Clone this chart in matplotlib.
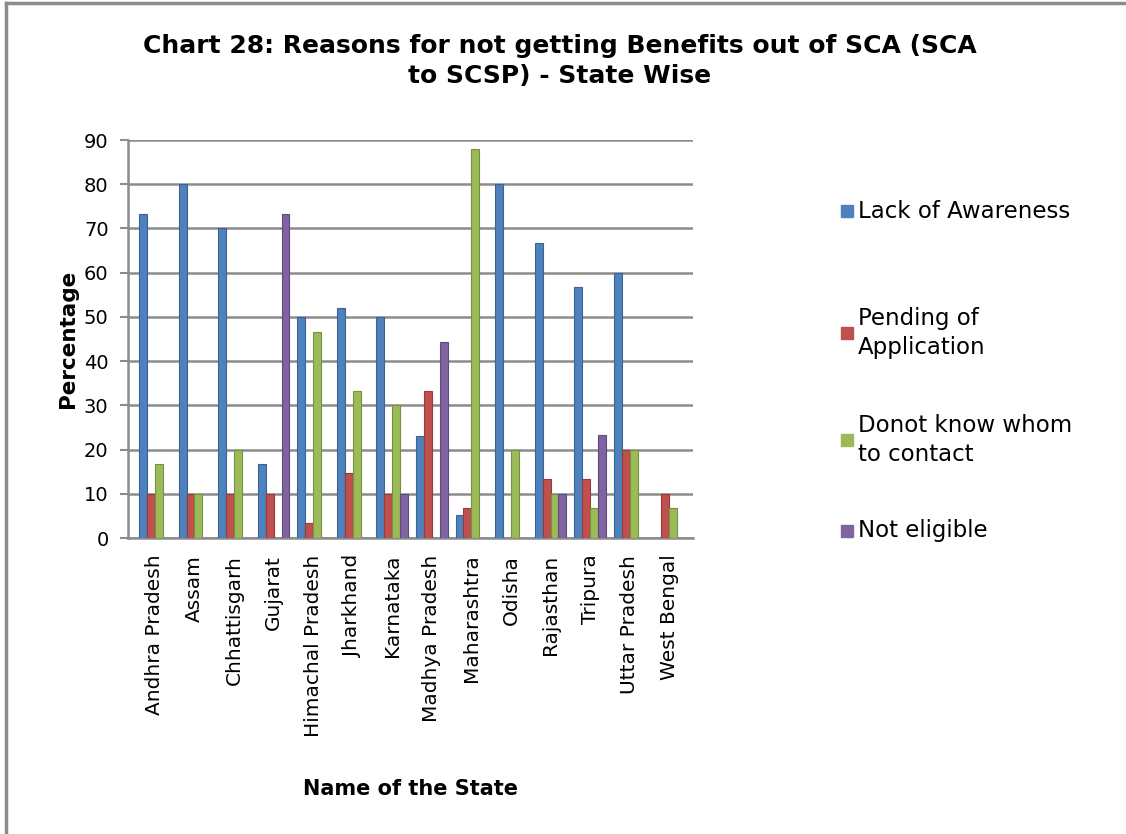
import numpy as np
import matplotlib.pyplot as plt
from matplotlib.lines import Line2D
from matplotlib.patches import Rectangle

# State-wise reasons (%) for not getting benefits out of SCA
states = ["Andhra Pradesh", "Assam", "Chhattisgarh", "Gujarat", "Himachal Pradesh",
          "Jharkhand", "Karnataka", "Madhya Pradesh", "Maharashtra", "Odisha",
          "Rajasthan", "Tripura", "Uttar Pradesh", "West Bengal"]
lack_awareness = [73.3, 80, 70, 16.7, 50, 52, 50, 23, 5.3, 80, 66.7, 56.7, 60, 0]
pending_application = [10, 10, 10, 10, 3.3, 14.8, 10, 33.3, 6.7, 0, 13.3, 13.3, 20, 10]
donot_know_contact = [16.7, 10, 20, 0, 46.7, 33.3, 30, 0, 88, 20, 10, 6.7, 20, 6.7]
not_eligible = [0, 0, 0, 73.3, 0, 0, 10, 44.4, 0, 0, 10, 23.3, 0, 0]

series_names = ["Lack of Awareness", "Pending of\nApplication",
                "Donot know whom\nto contact", "Not eligible"]
series_values = [lack_awareness, pending_application, donot_know_contact, not_eligible]

COLORS = ["#4F81BD", "#C0504D", "#9BBB59", "#8064A2"]
EDGES = ["#3A6496", "#943C3A", "#76913F", "#5F4A7A"]
GRID = "#8C8C8C"

plt.rcParams["font.family"] = ["DejaVu Sans"]

fig = plt.figure(figsize=(11.26, 8.34), dpi=100)
ax = fig.add_axes([0.1137, 0.3549, 0.5017, 0.4772])

x = np.arange(len(states))
width = 0.2
offsets = [-1.5, -0.5, 0.5, 1.5]
for vals, off, c, ec in zip(series_values, offsets, COLORS, EDGES):
    ax.bar(x + off * width, vals, width, color=c, edgecolor=ec, linewidth=0.8, zorder=3)

ax.set_xlim(-0.68, 13.6)
ax.set_ylim(0, 90)
ax.set_yticks(np.arange(0, 91, 10))
ax.yaxis.grid(True, color=GRID, linewidth=1.8, zorder=0)
ax.set_axisbelow(True)

ax.set_xticks(x)
ax.set_xticklabels(states, rotation=90, fontsize=14.5)
ax.tick_params(axis="x", length=0, pad=12)
ax.tick_params(axis="y", labelsize=14, color=GRID, width=1.5, length=6, pad=8)

for s in ["top", "right"]:
    ax.spines[s].set_visible(False)
for s in ["left", "bottom"]:
    ax.spines[s].set_color(GRID)
    ax.spines[s].set_linewidth(1.8)

ax.set_ylabel("Percentage", fontsize=15.5, fontweight="bold", labelpad=4)
ax.set_xlabel("Name of the State", fontsize=15, fontweight="bold", labelpad=30)

fig.text(0.497, 0.927, "Chart 28: Reasons for not getting Benefits out of SCA (SCA\nto SCSP) - State Wise",
         ha="center", va="center", fontsize=18, fontweight="bold", linespacing=1.35)

# legend on the right, spaced like the original layout
legend_y = [211, 333, 440, 531]
for name, c, yy in zip(series_names, COLORS, legend_y):
    yf = 1 - yy / 834
    fig.patches.append(Rectangle((841 / 1126, yf - 6 / 834), 12 / 1126, 12 / 834,
                                 transform=fig.transFigure, color=c))
    fig.text(858 / 1126, yf, name, ha="left", va="center", fontsize=16.5, linespacing=1.3)

# outer frame of the chart area
fig.add_artist(Line2D([6 / 1126, 6 / 1126], [0, 1 - 3 / 834], color="#8C8C8C", linewidth=2.5))
fig.add_artist(Line2D([6 / 1126, 1], [1 - 3 / 834, 1 - 3 / 834], color="#8C8C8C", linewidth=2.5))

fig.savefig("out.png", dpi=100)
